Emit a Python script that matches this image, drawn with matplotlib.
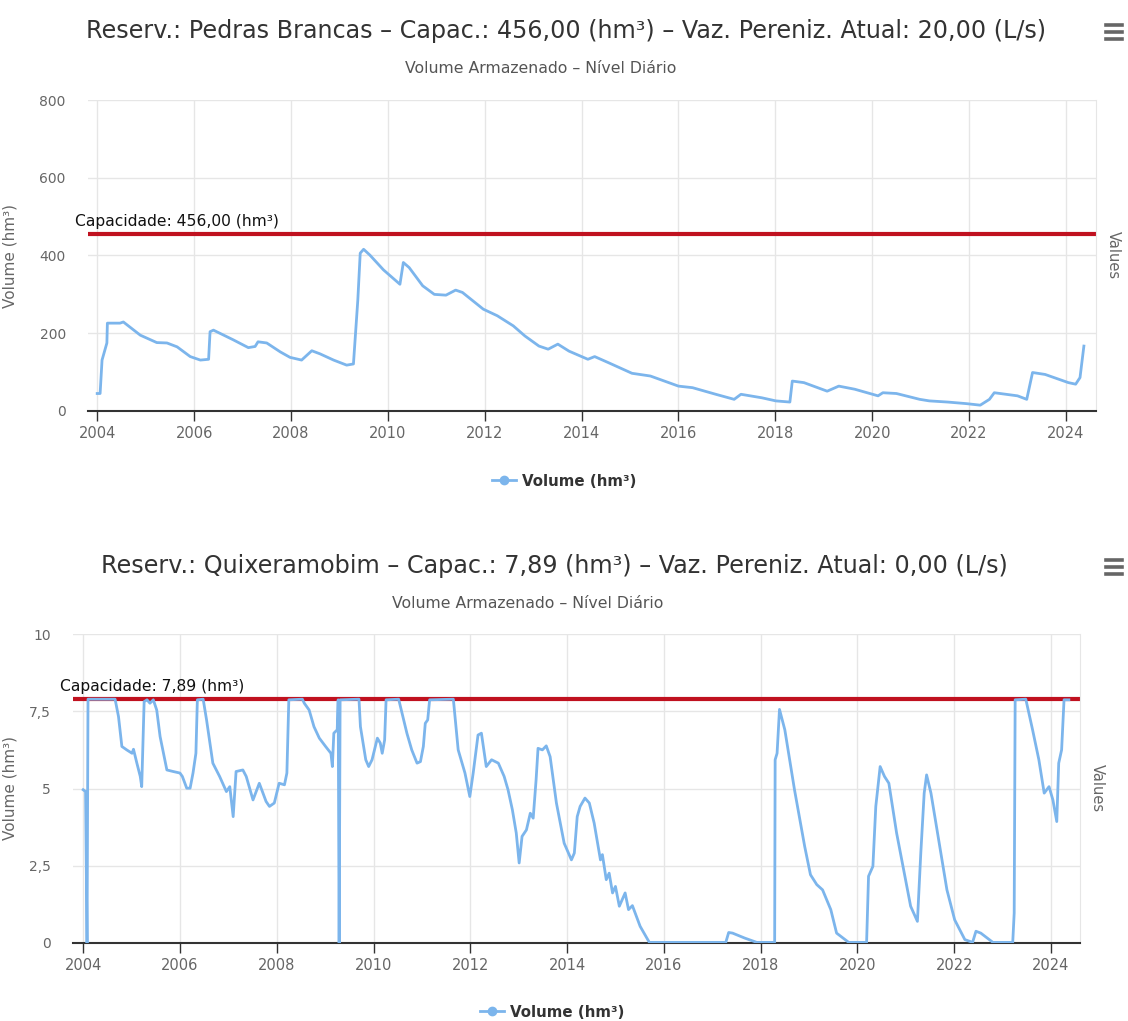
import matplotlib
matplotlib.use("Agg")
import matplotlib.pyplot as plt
from matplotlib.lines import Line2D

# Pedras Brancas - daily stored volume (hm3)
pb_years = [2004.00, 2004.06, 2004.10, 2004.20, 2004.21, 2004.47, 2004.54, 2004.89, 2005.23, 2005.44,
            2005.65, 2005.92, 2006.13, 2006.30, 2006.33, 2006.40, 2006.81, 2007.12, 2007.26, 2007.32,
            2007.50, 2007.78, 2007.98, 2008.22, 2008.43, 2008.60, 2008.88, 2009.15, 2009.29, 2009.38,
            2009.43, 2009.50, 2009.63, 2009.91, 2010.25, 2010.32, 2010.44, 2010.72, 2010.96, 2011.20,
            2011.40, 2011.54, 2011.97, 2012.26, 2012.59, 2012.83, 2013.12, 2013.31, 2013.51, 2013.74,
            2014.13, 2014.27, 2014.56, 2015.04, 2015.42, 2016.00, 2016.29, 2016.77, 2017.15, 2017.29,
            2017.72, 2018.01, 2018.30, 2018.35, 2018.59, 2019.07, 2019.31, 2019.64, 2020.12, 2020.22,
            2020.50, 2020.98, 2021.18, 2021.56, 2021.94, 2022.23, 2022.42, 2022.52, 2023.00, 2023.19,
            2023.31, 2023.57, 2024.05, 2024.20, 2024.29, 2024.37]
pb_volume = [45, 45, 131, 175, 226, 226, 229, 195, 176, 175,
             165, 140, 131, 133, 204, 208, 183, 163, 166, 178,
             175, 152, 138, 131, 155, 147, 131, 118, 121, 285,
             406, 416, 401, 363, 326, 382, 369, 322, 300, 298,
             311, 305, 262, 245, 219, 193, 167, 159, 172, 154,
             133, 140, 124, 97, 90, 64, 60, 43, 30, 43,
             34, 26, 23, 77, 73, 51, 64, 56, 39, 47,
             45, 30, 26, 23, 19, 15, 30, 47, 39, 30,
             99, 94, 73, 69, 86, 167]

# Quixeramobim - daily stored volume (hm3)
qx_years = [2004.00, 2004.05, 2004.08, 2004.10, 2004.66, 2004.73, 2004.80, 2004.90, 2005.01, 2005.04,
            2005.11, 2005.18, 2005.21, 2005.26, 2005.32, 2005.38, 2005.45, 2005.52, 2005.59, 2005.73,
            2005.86, 2006.00, 2006.05, 2006.14, 2006.21, 2006.27, 2006.33, 2006.36, 2006.48, 2006.55,
            2006.68, 2006.82, 2006.96, 2007.03, 2007.10, 2007.16, 2007.30, 2007.37, 2007.51, 2007.64,
            2007.78, 2007.85, 2007.95, 2008.05, 2008.16, 2008.21, 2008.25, 2008.53, 2008.57, 2008.67,
            2008.77, 2008.88, 2009.01, 2009.12, 2009.15, 2009.18, 2009.25, 2009.27, 2009.29, 2009.31,
            2009.70, 2009.73, 2009.84, 2009.90, 2009.97, 2010.08, 2010.14, 2010.18, 2010.23, 2010.26,
            2010.52, 2010.59, 2010.69, 2010.79, 2010.90, 2010.97, 2011.03, 2011.07, 2011.12, 2011.16,
            2011.65, 2011.75, 2011.89, 2011.99, 2012.06, 2012.16, 2012.23, 2012.33, 2012.44, 2012.58,
            2012.70, 2012.78, 2012.87, 2012.95, 2013.01, 2013.07, 2013.16, 2013.24, 2013.30, 2013.36,
            2013.40, 2013.49, 2013.57, 2013.65, 2013.78, 2013.94, 2014.09, 2014.15, 2014.21, 2014.27,
            2014.37, 2014.46, 2014.56, 2014.69, 2014.73, 2014.81, 2014.87, 2014.94, 2015.00, 2015.08,
            2015.20, 2015.27, 2015.35, 2015.51, 2015.70, 2017.28, 2017.34, 2017.42, 2017.67, 2017.92,
            2018.29, 2018.30, 2018.34, 2018.39, 2018.50, 2018.70, 2018.91, 2019.03, 2019.16, 2019.28,
            2019.45, 2019.57, 2019.82, 2020.19, 2020.23, 2020.32, 2020.38, 2020.47, 2020.56, 2020.65,
            2020.81, 2020.98, 2021.10, 2021.24, 2021.31, 2021.38, 2021.43, 2021.52, 2021.68, 2021.85,
            2022.01, 2022.22, 2022.38, 2022.45, 2022.55, 2022.80, 2023.21, 2023.24, 2023.26, 2023.48,
            2023.62, 2023.75, 2023.86, 2023.96, 2024.04, 2024.12, 2024.16, 2024.22, 2024.27, 2024.37]
qx_volume = [4.96, 4.90, 0.00, 7.89, 7.89, 7.33, 6.36, 6.25, 6.14, 6.27,
             5.82, 5.39, 5.06, 7.81, 7.87, 7.76, 7.87, 7.54, 6.68, 5.60,
             5.55, 5.50, 5.39, 5.01, 5.01, 5.50, 6.14, 7.87, 7.89, 7.22,
             5.82, 5.39, 4.90, 5.06, 4.09, 5.55, 5.60, 5.39, 4.63, 5.17,
             4.58, 4.42, 4.53, 5.17, 5.12, 5.50, 7.87, 7.89, 7.76, 7.54,
             7.00, 6.63, 6.36, 6.14, 5.71, 6.79, 6.90, 7.87, 0.00, 7.87,
             7.89, 7.00, 5.93, 5.71, 5.93, 6.63, 6.47, 6.14, 6.57, 7.87,
             7.89, 7.44, 6.79, 6.25, 5.82, 5.87, 6.36, 7.11, 7.22, 7.87,
             7.89, 6.25, 5.50, 4.74, 5.50, 6.73, 6.79, 5.71, 5.93, 5.82,
             5.39, 4.96, 4.31, 3.56, 2.59, 3.45, 3.66, 4.20, 4.04, 5.28,
             6.30, 6.25, 6.38, 6.03, 4.53, 3.23, 2.69, 2.91, 4.09, 4.42,
             4.69, 4.53, 3.88, 2.69, 2.86, 2.05, 2.26, 1.62, 1.83, 1.19,
             1.62, 1.08, 1.21, 0.54, 0.02, 0.02, 0.34, 0.32, 0.16, 0.02,
             0.02, 5.93, 6.14, 7.56, 6.90, 4.96, 3.13, 2.21, 1.89, 1.72,
             1.08, 0.32, 0.02, 0.02, 2.16, 2.48, 4.42, 5.71, 5.39, 5.17,
             3.56, 2.16, 1.19, 0.70, 2.91, 4.85, 5.44, 4.85, 3.34, 1.72,
             0.75, 0.11, 0.02, 0.38, 0.32, 0.02, 0.02, 0.97, 7.87, 7.89,
             6.90, 5.93, 4.85, 5.06, 4.63, 3.93, 5.82, 6.25, 7.87, 7.87]

year_ticks = list(range(2004, 2025, 2))

charts = [
    dict(years=pb_years, volume=pb_volume, capacity=456.0,
         title="Reserv.: Pedras Brancas – Capac.: 456,00 (hm³) – Vaz. Pereniz. Atual: 20,00 (L/s)",
         cap_label="Capacidade: 456,00 (hm³)",
         yticks=[0, 200, 400, 600, 800], ylabels=["0", "200", "400", "600", "800"], ylim=(0, 800),
         rect=[88 / 1128, 1 - 411 / 1021, 1008 / 1128, 311 / 1021], xlim=(2003.81, 2024.62),
         title_xy=(566, 31), sub_xy=(541, 68), leg_xy=(564, 481), values_x=1113),
    dict(years=qx_years, volume=qx_volume, capacity=7.89,
         title="Reserv.: Quixeramobim – Capac.: 7,89 (hm³) – Vaz. Pereniz. Atual: 0,00 (L/s)",
         cap_label="Capacidade: 7,89 (hm³)",
         yticks=[0, 2.5, 5, 7.5, 10], ylabels=["0", "2,5", "5", "7,5", "10"], ylim=(0, 10),
         rect=[73 / 1128, 1 - 943 / 1021, 1007 / 1128, 309 / 1021], xlim=(2003.79, 2024.6),
         title_xy=(554, 566), sub_xy=(528, 604), leg_xy=(552, 1012), values_x=1097),
]

W, H = 1128, 1021
fig = plt.figure(figsize=(W / 100, H / 100), dpi=100)

for c in charts:
    ax = fig.add_axes(c["rect"])
    ax.plot(c["years"], c["volume"], color="#7cb5ec", lw=2, solid_joinstyle="round", zorder=3)
    ax.axhline(c["capacity"], color="#c0111f", lw=3, zorder=2)

    ax.set_xlim(*c["xlim"])
    ax.set_ylim(*c["ylim"])
    ax.set_xticks(year_ticks)
    ax.set_xticklabels([str(y) for y in year_ticks])
    ax.set_yticks(c["yticks"])
    ax.set_yticklabels(c["ylabels"])
    ax.grid(True, color="#e6e6e6", lw=1, zorder=0)
    ax.set_axisbelow(True)

    for s in ["top", "left"]:
        ax.spines[s].set_visible(False)
    ax.spines["right"].set_color("#e6e6e6")
    ax.spines["bottom"].set_color("#333333")
    ax.spines["bottom"].set_linewidth(1.5)
    ax.tick_params(axis="x", length=7, width=1, color="#333333", labelcolor="#666666",
                   labelsize=10.5, pad=4)
    ax.tick_params(axis="y", length=0, labelcolor="#666666", labelsize=10, pad=16)

    ax.set_ylabel("Volume (hm³)", color="#666666", fontsize=11)
    ax.yaxis.set_label_coords((18 - c["rect"][0] * W) / (c["rect"][2] * W), 0.5)
    ax.text((c["values_x"] - c["rect"][0] * W) / (c["rect"][2] * W), 0.5, "Values",
            transform=ax.transAxes, rotation=270, color="#666666", fontsize=10.5,
            ha="center", va="center")

    ax.annotate(c["cap_label"], xy=(0, c["capacity"]), xycoords=("axes fraction", "data"),
                xytext=(-13, 5), textcoords="offset pixels", fontsize=11.2, color="#111111",
                ha="left", va="bottom")

    fig.text(c["title_xy"][0] / W, 1 - c["title_xy"][1] / H, c["title"],
             fontsize=17.2, color="#333333", ha="center", va="center")
    fig.text(c["sub_xy"][0] / W, 1 - c["sub_xy"][1] / H, "Volume Armazenado – Nível Diário",
             fontsize=11.3, color="#555555", ha="center", va="center")

    # export menu icon (three bars)
    iy = c["title_xy"][1] + 1
    for dy in (-7, 0, 7):
        fig.add_artist(Line2D([1106 / W, 1122 / W], [1 - (iy + dy) / H] * 2,
                              color="#666666", lw=2.6, transform=fig.transFigure))

    handle = Line2D([], [], color="#7cb5ec", lw=2, marker="o", markersize=6)
    ax.legend([handle], ["Volume (hm³)"], loc="center", frameon=False,
              bbox_to_anchor=(c["leg_xy"][0] / W, 1 - c["leg_xy"][1] / H),
              bbox_transform=fig.transFigure, handlelength=1.6, handletextpad=0.4,
              prop={"weight": "bold", "size": 10.8}, labelcolor="#333333")

fig.savefig("out.png", dpi=100, facecolor="white")
